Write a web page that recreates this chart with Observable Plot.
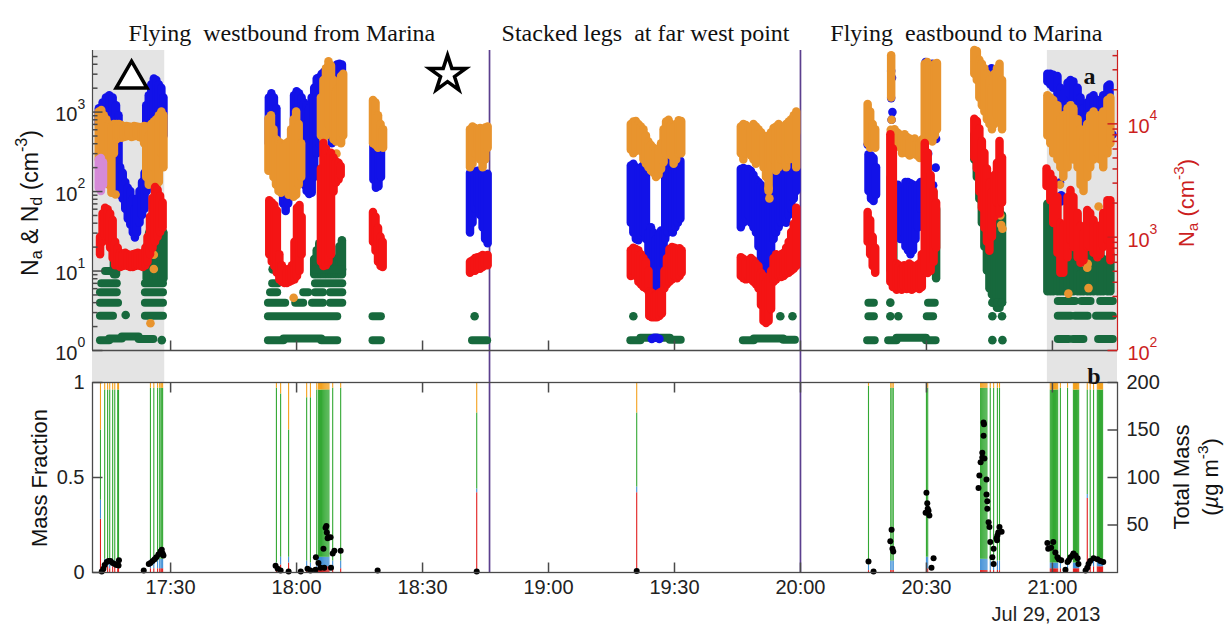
<!DOCTYPE html>
<html>
<head>
<meta charset="utf-8">
<script src="https://cdn.jsdelivr.net/npm/d3@7"></script>
<script src="https://cdn.jsdelivr.net/npm/@observablehq/plot@0.6"></script>
<style>
  body { margin: 0; background: #fff; }
  #chart { position: relative; width: 1228px; height: 630px; overflow: hidden; background: #fff;
           font-family: "Liberation Sans", Arial, sans-serif; }
  #chart svg { position: absolute; left: 0; }
  .ylab { position: absolute; transform: translate(-50%, -50%) rotate(-90deg); white-space: nowrap;
          font-size: 22px; line-height: 1.15; text-align: center; color: #111; }
  .ylab sub { font-size: 0.7em; vertical-align: -0.3em; }
  .ylab sup { font-size: 0.7em; vertical-align: 0.65em; }
</style>
</head>
<body>
<div id="chart"></div>
<script>
// ---- time axis (minutes after 17:00, Jul 29 2013) ----
const timeDomain = [11.4, 255.5];
const xTickMinutes = [30, 60, 90, 120, 150, 180, 210, 240];
const xTickLabels = ["17:30", "18:00", "18:30", "19:00", "19:30", "20:00", "20:30", "21:00"];
const shadedSpans = [[11.4, 28.6], [238.8, 255.5]];
const legBoundaries = [105.95, 180];
const segmentTitles = ["Flying\u00a0 westbound from Marina", "Stacked legs\u00a0 at far west point", "Flying\u00a0 eastbound to Marina"];
const segmentTitleCenters = [56.5, 143.1, 219.5];

// ---- axis ranges ----
const leftMax = 5957;          // N_a & N_d axis top (cm^-3)
const rightMin = 100, rightMax = 44400; // red N_a axis (cm^-3)
const leftMajor = [1, 10, 100, 1000];
const leftExp = ["0", "1", "2", "3"];
const rightMajor = [100, 1000, 10000];
const rightExp = ["2", "3", "4"];
const fracTicks = [0, 0.5, 1];
const fracTickLabels = ["0", "0.5", "1"];
const massTicks = [50, 100, 150, 200];
const massMax = 200;

// ---- panel a: concentration bands [minute, low, high] ----
const blueCols = [
  [12.9,700,1100],[13.8,800,1300],[14.6,900,1500],[15.4,800,1600],[16.2,300,1500],[17.0,150,1200],[17.6,100,900],
  [18.0,90,200],[18.6,80,170],[19.2,60,130],[19.8,45,110],[20.4,38,100],[21.0,30,80],[21.5,26,60],[22.0,30,80],
  [22.6,40,100],[23.2,50,130],[23.8,60,170],[24.3,100,300],
  [24.2,300,1200],[24.8,500,1600],[25.4,800,2200],[26.0,900,2600],[26.6,900,2500],[27.2,700,2200],[27.8,600,2000],[28.3,500,1500],
  [53.4,400,1500],[54.0,250,1700],[54.6,200,1500],[55.2,190,1100],
  [56.8,70,150],[57.4,56,130],[58.0,70,160],
  [59.4,300,1600],[60.0,250,1800],[60.6,200,1700],[61.2,150,1500],[61.8,120,1300],[62.4,100,1200],[63.0,92,1100],
  [63.6,95,1500],[64.2,150,2000],[64.8,300,2600],[65.4,400,2700],
  [66.0,500,3000],[66.6,600,3200],[67.2,700,3500],[67.8,500,3300],[68.4,400,3000],[69.0,600,3600],[69.6,900,3900],[70.2,1200,4000],[70.8,1500,3900],
  [78.3,140,400],[78.9,110,350],[79.5,115,380],[80.1,150,420],
  [101.3,30,170],[101.9,40,180],[102.5,60,170],[103.1,70,180],[103.7,50,175],[104.3,35,160],[104.9,25,150],[105.5,22,165],
  [139.6,40,210],[140.2,30,220],[140.8,25,200],[141.4,24,190],[142.0,28,200],[142.6,30,215],[143.2,25,180],
  [143.8,12,30],[144.4,7,35],[145.0,5.5,30],[145.6,5.3,25],[146.2,6,28],[146.8,8,32],[147.4,12,30],
  [147.8,25,200],[148.4,30,230],[149.0,35,240],[149.6,30,230],[150.2,35,235],[150.8,40,240],[151.4,45,240],
  [165.8,35,190],[166.4,40,195],[167.0,45,190],[167.6,50,190],[168.2,40,180],[168.8,35,160],[169.4,30,140],
  [170.0,20,130],[170.6,12,120],[171.2,8,110],[171.8,6.5,80],[172.4,7,90],[173.0,12,120],[173.6,25,160],
  [174.2,30,190],[174.8,35,195],[175.4,40,200],[176.0,45,190],[176.6,40,185],[177.2,50,195],[177.8,60,200],[178.4,80,260],[179.0,100,500],
  [196.2,100,290],[196.8,80,280],[197.4,75,260],[198.0,90,200],
  [202.6,40,110],[203.2,30,120],[203.8,25,110],[204.4,30,100],[205.0,20,130],[205.6,18,130],[206.2,16,125],
  [206.8,18,120],[207.4,25,115],[208.0,35,120],[208.6,60,130],
  [209.8,2400,4200],[210.6,2200,3800],[211.4,2500,4000],
  [221.6,3000,4300],[222.2,2800,4000],[223.5,2000,3000],[224.3,1800,3200],[225.5,1600,3500],[226.4,1300,2200],[227.6,1100,1900],
  [238.8,2400,3000],[239.5,2200,3000],[240.2,2000,2900],[241.2,1500,2800],[241.9,700,2000],[242.6,800,1700],[243.6,1200,2300],
  [244.3,1600,2500],[245.0,1500,2400],[246.0,1000,2000],[246.7,700,1500],[247.4,500,1100],[248.3,700,1300],[249.0,900,1500],
  [249.8,1000,1600],[250.7,900,1400],[251.4,700,1300],[252.1,900,1600],[253.1,1300,2100],[253.6,1500,2200]
];
const blueDots = [
  [144.6,1.4],[145.2,1.45],[145.8,1.45],[146.4,1.4],[201.6,3300],[201.8,2700],[201.6,1500],[201.9,1000],[201.7,800],
  [210.4,300],[210.8,150],[211.6,120],[212.2,200],[209.8,500],[212.3,460],[241.8,130],[242.1,90],[242.0,75],[254.3,520],[196.0,390]
];

const orangeCols = [
  [12.9,250,1000],[13.5,300,1050],[14.1,150,900],[14.7,200,800],[15.3,120,700],[15.9,95,650],[16.5,300,700],[17.1,450,700],
  [17.7,480,700],[18.3,470,680],[18.9,480,650],[19.5,490,660],[20.1,500,650],[20.7,480,640],[21.3,490,660],[21.9,500,650],
  [22.5,480,640],[23.1,470,640],[23.7,400,660],[24.2,150,650],[24.8,120,500],[25.4,150,700],[26.0,200,750],[26.6,110,800],
  [27.2,130,900],[27.8,300,1000],[28.3,200,900],
  [53.3,180,820],[53.9,200,900],[54.5,150,600],[55.1,120,450],[55.7,100,420],[56.3,95,400],[56.9,110,380],[57.5,100,400],
  [58.1,90,420],[58.7,100,600],[59.3,85,800],[59.9,90,1000],[60.5,120,700],[61.1,150,400],
  [65.8,500,1500],[66.4,450,2500],[67.0,500,3500],[67.6,700,4300],[68.2,600,3800],[68.8,450,2500],[69.4,420,1800],
  [70.0,500,2000],[70.6,400,2800],[71.1,500,3000],
  [78.2,400,1400],[78.8,380,1300],[79.4,350,900],[80.0,360,700],[80.6,350,600],
  [101.3,200,600],[101.9,220,650],[102.5,300,620],[103.1,350,600],[103.7,250,620],[104.3,200,600],[104.9,250,630],[105.5,350,650],
  [139.6,330,700],[140.2,300,750],[140.8,320,760],[141.4,350,700],[142.0,320,650],[142.6,250,600],[143.2,220,500],
  [143.8,200,420],[144.4,180,380],[145.0,170,350],[145.6,150,320],[146.2,160,340],[146.8,190,400],[147.4,230,600],
  [148.0,300,750],[148.6,350,790],[149.2,280,700],[149.8,220,650],[150.4,250,700],[151.0,300,780],[151.6,300,760],
  [165.8,300,650],[166.4,250,700],[167.0,300,680],[167.6,350,600],[168.2,280,640],[168.8,250,700],[169.4,220,650],
  [170.0,250,600],[170.6,300,550],[171.2,200,500],[171.8,150,450],[172.4,100,500],[173.0,200,550],[173.6,250,620],
  [174.2,180,650],[174.8,200,700],[175.4,250,650],[176.0,300,600],[176.6,200,700],[177.2,250,750],[177.8,300,800],
  [178.4,250,900],[179.0,200,1000],
  [196.0,400,1250],[196.6,350,1000],[197.2,380,700],[197.8,350,600],
  [201.6,1500,5100],
  [202.4,350,600],[203.0,380,550],[203.6,360,520],[204.2,300,500],[204.8,350,520],[205.4,300,480],[206.0,280,460],
  [206.6,290,440],[207.2,300,460],[207.8,280,420],[208.4,260,400],[209.0,280,450],
  [209.6,500,4000],[210.2,600,4200],[210.8,450,3800],[211.4,420,3500],[212.0,500,4000],[212.5,600,4100],
  [221.4,3000,5950],[222.0,2500,5800],[222.6,1500,4500],[223.2,1200,4000],[223.8,1000,3500],[224.4,800,3000],
  [225.0,700,2500],[225.6,600,2000],[226.2,700,3000],[226.8,900,3500],[227.4,800,4000],[228.0,600,2500],
  [238.8,500,1600],[239.5,400,1500],[240.2,300,1400],[241.2,250,1200],[241.9,200,800],[242.6,150,900],[243.6,200,1100],
  [244.3,300,1200],[245.0,250,1100],[246.0,200,800],[246.7,120,600],[247.4,100,450],[248.3,150,700],[249.0,200,900],
  [249.8,250,1000],[250.7,300,900],[251.4,250,800],[252.1,200,1000],[253.1,300,1400],[253.8,400,1500]
];
const orangeDots = [
  [16.9,92],[25.2,2.2],[26.0,10.6],[26.0,16],[59.3,4.6],[70.3,200],[69.5,300],[172.6,82],[172.4,110],[201.7,800],[201.5,600],
  [227.8,38],[228.1,34],[227.6,50],[251.0,65],[243.8,5.2],[248.3,11],[244.3,24],[253.1,42],[241.8,122],[248.6,6.1],[248.4,12.3]
];

// red N_a, in units of the right-hand axis
const redCols = [
  [13.2,700,1000],[13.8,900,1600],[14.4,1000,1800],[15.0,1000,1750],[15.6,800,1600],[16.2,650,1400],[16.8,560,900],
  [17.4,560,800],[18.0,540,720],[18.6,550,700],[19.2,560,720],[19.8,550,700],[20.4,540,690],[21.0,540,700],[21.6,550,710],
  [22.2,560,720],[22.8,550,700],[23.4,540,720],[24.0,560,800],
  [24.5,600,1000],[25.1,700,1500],[25.7,800,2200],[26.3,900,2750],[26.9,1000,2600],[27.5,1100,2300],[28.1,1200,2000],
  [53.5,700,2100],[54.1,600,2000],[54.7,550,1900],[55.3,480,1700],
  [55.9,420,700],[56.5,400,560],[57.1,390,520],[57.7,390,500],[58.3,400,520],[58.9,410,560],[59.5,420,900],
  [60.1,450,1800],[60.7,500,1900],[61.2,700,1500],
  [65.8,600,4000],[66.4,550,6700],[67.0,560,6000],[67.6,600,5000],[68.2,700,5500],[68.8,2500,5000],[69.4,3000,4600],[70.0,3200,4500],[70.5,3500,4200],
  [78.2,900,1650],[78.8,750,1500],[79.4,600,1200],[80.0,550,1000],[80.5,540,900],
  [101.3,480,600],[101.9,500,620],[102.5,500,650],[103.1,520,660],[103.7,520,670],[104.3,540,690],[104.9,560,680],[105.5,560,690],
  [139.6,450,760],[140.2,500,800],[140.8,450,780],[141.4,400,760],[142.0,380,700],[142.6,360,650],[143.2,350,600],[143.8,330,500],
  [144.0,200,330],[144.6,195,320],[145.2,195,300],[145.8,195,310],[146.4,200,320],[147.0,210,330],
  [147.6,350,500],[148.2,380,650],[148.8,400,780],[149.4,420,810],[150.0,450,800],[150.6,430,780],[151.2,450,790],[151.7,480,760],
  [165.8,450,660],[166.4,430,640],[167.0,420,600],[167.6,440,620],[168.2,420,650],[168.8,400,620],[169.4,380,580],[170.0,350,550],
  [170.6,250,480],[171.2,180,450],[171.8,173,400],[172.4,180,420],[173.0,230,500],
  [173.6,400,650],[174.2,420,700],[174.8,450,680],[175.4,440,700],[176.0,450,720],[176.6,470,800],[177.2,480,900],
  [177.8,500,1100],[178.4,520,1300],[179.0,550,1800],
  [196.0,900,1650],[196.6,700,1400],[197.2,550,1000],[197.8,480,800],
  [201.4,400,8000],[202.0,360,6000],
  [202.9,340,580],[203.5,350,560],[204.1,340,520],[204.7,360,560],[205.3,345,540],[205.9,350,580],[206.5,340,560],
  [207.1,350,520],[207.7,360,560],[208.3,345,580],[208.9,360,700],
  [209.6,500,6700],[210.3,478,5500],[211.0,500,3500],[211.7,600,2500],[212.3,800,2000],
  [221.4,5000,11000],[222.0,4000,10500],[222.6,2500,9000],[223.2,1800,7000],[223.8,1200,5500],[224.4,900,4000],
  [225.0,750,3000],[225.6,1000,2500],[226.2,1500,3500],[226.8,2000,4500],[227.4,1600,7000],[228.0,2000,5000],
  [238.6,2800,4000],[239.5,2100,3600],[240.2,1320,3200],[241.2,720,2240],[241.9,480,1320],[242.6,480,1250],[243.6,660,2240],
  [244.3,940,2580],[245.0,810,2240],[246.0,660,1620],[246.7,590,1250],[247.4,620,1080],[248.3,810,1720],[249.0,810,1620],
  [249.8,720,1400],[250.7,660,1250],[251.4,700,1250],[252.1,810,1620],[253.1,940,2100],[253.8,620,2100]
];

const greenCols = [
  [16.5,9,13],[17.0,9,12],[24.3,8,20],[24.9,8,30],[25.5,8,35],[26.1,8,30],[26.7,8,28],[27.3,8,33],[27.9,8,36],[28.3,8,30],
  [64.2,9,14],[64.8,9,18],[65.4,9,22],[66.0,9,16],[66.6,9,25],[67.2,9,40],[67.8,9,30],[68.4,9,15],[69.0,9,14],
  [69.6,9,13],[70.2,9,20],[70.8,9,24],
  [201.5,10,150],[202.1,8,60],[210.0,16,200],[210.8,12,150],[211.6,10,100],[212.3,8,60],
  [221.4,250,520],[222.0,150,450],[222.6,80,350],[223.2,40,250],[223.8,20,150],[224.4,10,100],[225.0,6,60],
  [225.6,5,40],[226.2,4,30],[226.8,3.4,40],[227.4,3.4,60],[228.0,4,50],
  [238.8,5.5,69],[239.5,5.5,60],[240.2,5.5,45],[241.2,5.5,25],[241.9,5.5,15],[242.6,5.5,18],[243.6,5.5,30],[244.3,5.5,28],
  [245.0,5.5,20],[246.0,5.5,14],[246.7,5.5,9],[247.4,5.5,10],[248.3,5.5,18],[249.0,5.5,25],[249.8,5.5,27],[250.7,5.5,24],
  [251.4,5.5,18],[252.1,5.5,14],[253.1,5.5,13],[253.8,5.5,16]
];
// counting-limited droplet levels: [start minute, end minute, value]
const greenRows = [
  [13.3,15.5,1.35],[15.5,18.5,1.42],[18.5,22.5,1.5],[22.5,26.0,1.4],
  [13.3,16.4,2.74],[24.0,28.3,2.74],[13.3,17.6,4.0],[24.0,28.3,4.0],[13.3,17.3,5.4],[24.0,28.3,5.4],
  [13.6,17.3,7.0],[24.0,28.3,7.0],[14.5,17.0,10],
  [53.3,57,1.35],[57,66,1.42],[66,69.8,1.35],[53.3,69.8,2.7],
  [53.3,57.4,4.0],[59.8,61.7,4.0],[63.8,66.4,4.0],[68.1,71.0,4.0],
  [53.8,55.5,5.4],[61.7,62.9,5.4],[64.5,66.4,5.4],[68.1,71.0,5.4],
  [54.3,55.7,7.0],[64.5,71.0,7.0],[64.5,71.0,10.5],
  [78.2,80.2,2.7],[78.2,80.2,1.35],[101.9,105.5,1.35],
  [139.6,142,1.35],[142,149,1.45],[149,151.6,1.37],[166.4,169,1.35],[169,176,1.42],[176,178.8,1.37],
  [196.3,197.6,4.0],[196.3,197.6,2.7],[196.0,197.8,1.35],
  [210.5,212.1,4.0],[210.2,211.7,2.7],[201.0,203,1.35],[203,210,1.45],[210,212.3,1.35],
  [241.4,245.5,4.2],[247.0,249.2,4.2],[251.5,254.5,4.2],
  [241.4,244.5,2.74],[245.5,248.5,2.74],[250.5,254.5,2.74],
  [241.4,244.0,1.4],[245.0,247.5,1.4],[251.0,254.5,1.4]
];
const greenDots = [
  [19.3,2.8],[27.9,1.35],[54.3,10.5],[102.4,2.7],[140.2,2.7],[175.2,2.7],[178.1,2.7],[201.4,4.0],[201.4,2.7],[203.3,2.7],
  [225.7,4.0],[226.9,4.0],[228.0,4.0],[225.7,2.7],[228.0,2.7],[225.7,1.35],[228.1,1.35]
];
const violetCols = [[12.9,110,250],[13.4,100,260],[13.9,120,230]];

// ---- panel b: mass fraction per sample [minute, red, blue, green, orange] ----
const massFraction = [
  [13.3,.28,.10,.37,.25],
  [14.3,.03,.04,.89,.04],[15.0,.03,.03,.90,.04],[15.5,.02,.04,.90,.04],[16.2,.03,.04,.89,.04],[16.7,.03,.03,.90,.04],[17.4,.02,.04,.90,.04],[17.6,.03,.04,.89,.04],
  [25.2,.02,.05,.90,.03],[26.0,.02,.05,.90,.03],[26.9,.02,.04,.91,.03],[27.4,.02,.05,.90,.03],[27.7,.02,.05,.90,.03],[27.9,.02,.05,.90,.03],[28.1,.02,.05,.90,.03],
  [55.2,.02,.03,.92,.03],[56.2,.04,.04,.86,.06],[58.1,.05,.03,.67,.25],
  [62.4,.03,.03,.86,.08],[63.3,.02,.03,.87,.08],[64.8,.02,.04,.90,.04],
  [65.2,.03,.05,.88,.04],[65.45,.03,.05,.88,.04],[65.7,.03,.05,.88,.04],[65.95,.03,.05,.88,.04],[66.2,.03,.05,.88,.04],
  [66.45,.03,.05,.88,.04],[66.7,.03,.05,.88,.04],[66.95,.03,.05,.88,.04],[67.2,.03,.05,.88,.04],[67.45,.03,.05,.88,.04],[67.7,.03,.05,.88,.04],
  [68.6,.02,.04,.91,.03],[70.5,.02,.04,.91,.03],
  [102.9,.42,.02,.40,.16],
  [141.0,.42,.03,.39,.16],
  [196.2,.01,.03,.94,.02],
  [201.5,.01,.05,.91,.03],[201.8,.01,.05,.91,.03],[202.1,.01,.05,.91,.03],
  [210.0,.02,.06,.89,.03],[210.3,.02,.06,.89,.03],
  [222.9,.01,.06,.90,.03],[223.15,.01,.06,.90,.03],[223.4,.01,.06,.90,.03],[223.65,.01,.06,.90,.03],[223.9,.01,.06,.90,.03],
  [224.15,.01,.06,.90,.03],[224.4,.01,.06,.90,.03],[225.2,.01,.05,.91,.03],[226.0,.01,.05,.91,.03],[226.9,.01,.05,.91,.03],[227.4,.01,.05,.91,.03],
  [239.5,.02,.03,.91,.04],[239.75,.02,.03,.91,.04],[240.0,.02,.03,.91,.04],[240.25,.02,.03,.91,.04],[240.5,.02,.03,.91,.04],
  [240.75,.02,.03,.91,.04],[241.0,.02,.03,.91,.04],[241.25,.02,.03,.91,.04],
  [241.9,.02,.03,.92,.03],[243.6,.02,.03,.92,.03],
  [245.0,.02,.03,.91,.04],[245.25,.02,.03,.91,.04],[245.5,.02,.03,.91,.04],[245.75,.02,.03,.91,.04],[246.0,.02,.03,.91,.04],[246.25,.02,.03,.91,.04],
  [248.3,.39,.02,.55,.04],[249.0,.03,.03,.90,.04],[249.8,.03,.03,.90,.04],
  [250.7,.03,.03,.90,.04],[250.95,.03,.03,.90,.04],[251.2,.03,.03,.90,.04],[251.45,.03,.03,.90,.04],[251.7,.03,.03,.90,.04],[251.95,.03,.03,.90,.04]
];
// total mass (µg m^-3): [minute, value]
const totalMass = [
  [13.6,1],[14.0,4],[14.3,8],[14.8,11],[15.2,12],[15.7,12],[16.2,10],[16.7,9],[17.1,8],[17.6,7.5],[17.7,13],
  [23.6,2],[24.8,9],[25.2,10],[25.7,12],[26.2,14],[26.6,16],[27.1,19],[27.6,22],[27.9,24],[28.1,20],[28.3,18],
  [55.0,7],[55.5,4],[56.2,2],[58.1,1],[61.0,1],[62.6,4],[63.3,2],[64.5,3],[64.6,16],[65.2,10],[65.7,5],[66.4,25],[66.6,5],
  [66.9,47],[67.1,49],[67.2,42],[67.4,36],[67.6,37],[68.1,37],[68.2,5],[68.6,20],[69.0,23],[70.5,23],
  [79.3,2],[102.9,1],[141.0,1.5],
  [196.2,11.6],[197.4,1],[201.4,33],[201.7,45],[201.9,25],[202.1,22],
  [209.8,63],[210.0,84],[210.2,73],[210.3,67],[210.5,65],[210.7,60],[211.2,5],[211.7,15],
  [222.4,89],[222.6,102],[222.9,116],[223.3,126],[223.3,121],[223.6,158],[223.7,156],[223.6,144],[223.8,120],[224.3,98],
  [224.3,82],[224.5,75],[224.5,67],[224.8,53],[225.0,48],[225.2,32],[225.7,16],[226.0,25],[226.0,9],[226.7,36],[226.8,34],
  [226.9,39],[227.1,42],[227.4,48],[227.9,43],
  [238.8,31],[239.0,25],[239.7,26],[240.2,32],[240.7,21],[241.2,16],[241.5,14],[242.1,13],[243.1,3],[243.6,11],[243.9,13],
  [244.3,16],[244.8,18],[245.0,20],[245.5,18],[246.0,15],[246.2,9],[247.9,2],[248.3,5],[248.6,9],[249.0,12],[249.8,15],
  [250.7,14],[251.4,12],[252.1,11]
];
// markers drawn on panel a: [minute, value]
const triangleMark = [[20.7, 2600]];
const starMark = [[95.95, 2985]];

// ---- layout & styling ----
const W = 1228, mL = 92, mR = 111;
const topH = 382, topMT = 50, topMB = 32;
const botTop = 360, botH = 270, botMT = 22, botMB = 58;
const axisColor = "#4a4a4a", redAxis = "#cc1f1f", purple = "#5b3f8e";
const C = {blue: "#1212e8", orange: "#e8942e", red: "#f41414", green: "#17693d", violet: "#d58ad8"};
const F = {red: "#e11d1d", blue: "#3f8fd6", green: "#33a833", orange: "#f4a11d"};
const serif = "Liberation Serif, Times New Roman, serif";
const sans = "Liberation Sans, Arial, sans-serif";

// right axis values share the left log scale
const kRight = Math.log10(leftMax) / (Math.log10(rightMax) - Math.log10(rightMin));
const toLeft = v => 10 ** ((Math.log10(v) - Math.log10(rightMin)) * kRight);
// log value at the bottom of the gap under panel a
const pxPerDecade = (topH - topMT - topMB) / Math.log10(leftMax);
const gapBottom = 10 ** (-topMB / pxPerDecade);

const tickMark = (dx, dy) => ({draw(ctx) { ctx.moveTo(0, 0); ctx.lineTo(dx, dy); }});
const minorOf = (lo, hi) => {
  const out = [];
  for (let d = lo; d < hi; d *= 10) for (let k = 2; k <= 9; k++) out.push(k * d);
  return out;
};
const leftMinor = minorOf(1, 1000).concat([2000, 3000, 4000, 5000]);
const rightMinor = minorOf(100, 10000).concat([20000, 30000, 40000]);

const band = (data, color, conv = v => v) => Plot.ruleX(data, {
  x: d => d[0], y1: d => conv(d[1]), y2: d => conv(d[2]),
  stroke: color, strokeWidth: 8.5, strokeLinecap: "round"
});
const row = (data, color) => Plot.ruleY(data, {
  y: d => d[2], x1: d => d[0], x2: d => d[1],
  stroke: color, strokeWidth: 8, strokeLinecap: "round"
});
const pts = (data, color) => Plot.dot(data, {x: d => d[0], y: d => d[1], r: 4.3, fill: color});

const topPlot = Plot.plot({
  width: W, height: topH, marginLeft: mL, marginRight: mR, marginTop: topMT, marginBottom: topMB,
  style: {background: "transparent", fontFamily: sans, fontSize: "20px", overflow: "visible"},
  x: {domain: timeDomain, axis: null},
  y: {type: "log", domain: [1, leftMax], axis: null},
  marks: [
    Plot.rect(shadedSpans, {x1: d => d[0], x2: d => d[1], y1: () => gapBottom, y2: () => leftMax, fill: "#e4e4e4"}),
    Plot.ruleX(legBoundaries, {x: d => d, y1: () => gapBottom, y2: () => leftMax, stroke: purple, strokeWidth: 1.7}),
    // data
    band(greenCols, C.green), row(greenRows, C.green), pts(greenDots, C.green),
    band(blueCols, C.blue), pts(blueDots, C.blue),
    band(orangeCols, C.orange), pts(orangeDots, C.orange),
    band(violetCols, C.violet),
    band(redCols, C.red, toLeft),
    // axes
    Plot.ruleY([1], {stroke: axisColor, strokeWidth: 1.5}),
    Plot.ruleX([timeDomain[0]], {y1: () => 1, y2: () => leftMax, stroke: axisColor, strokeWidth: 1.2}),
    Plot.ruleX([timeDomain[1]], {y1: () => 1, y2: () => leftMax, stroke: redAxis, strokeWidth: 1.2}),
    Plot.dot(leftMajor, {y: d => d, frameAnchor: "left", symbol: tickMark(10, 0), stroke: axisColor, fill: "none"}),
    Plot.dot(leftMinor, {y: d => d, frameAnchor: "left", symbol: tickMark(5, 0), stroke: axisColor, fill: "none"}),
    Plot.dot(rightMajor, {y: d => toLeft(d), frameAnchor: "right", symbol: tickMark(-10, 0), stroke: redAxis, fill: "none"}),
    Plot.dot(rightMinor, {y: d => toLeft(d), frameAnchor: "right", symbol: tickMark(-5, 0), stroke: redAxis, fill: "none"}),
    Plot.dot(xTickMinutes, {x: d => d, frameAnchor: "bottom", symbol: tickMark(0, -10), stroke: axisColor, fill: "none"}),
    Plot.text(leftMajor, {y: d => d, frameAnchor: "left", text: () => "10", textAnchor: "end", dx: -15, dy: 3, fontSize: 20, fill: "#222"}),
    Plot.text(leftMajor, {y: d => d, frameAnchor: "left", text: (d, i) => leftExp[i], textAnchor: "start", dx: -15, dy: -8, fontSize: 14, fill: "#222"}),
    Plot.text(rightMajor, {y: d => toLeft(d), frameAnchor: "right", text: () => "10", textAnchor: "start", dx: 10, dy: 3, fontSize: 20, fill: redAxis}),
    Plot.text(rightMajor, {y: d => toLeft(d), frameAnchor: "right", text: (d, i) => rightExp[i], textAnchor: "start", dx: 32, dy: -8, fontSize: 14, fill: redAxis}),
    // titles & annotations
    Plot.text(segmentTitles, {x: (d, i) => segmentTitleCenters[i], frameAnchor: "top", text: d => d, dy: -27,
      fontFamily: serif, fontSize: 24, fill: "#111"}),
    Plot.text(["a"], {frameAnchor: "top-right", text: d => d, dx: -22, dy: 16, fontFamily: serif, fontWeight: "bold", fontSize: 24, fill: "#111"}),
    Plot.dot(triangleMark, {x: d => d[0], y: d => d[1], symbol: "triangle", r: 11.5, fill: "white", stroke: "black", strokeWidth: 3.5}),
    Plot.dot(starMark, {x: d => d[0], y: d => d[1], symbol: "star", r: 11.5, fill: "white", stroke: "black", strokeWidth: 3.5})
  ]
});
topPlot.style.top = "0px";

// stacked mass fraction segments
const comps = ["red", "blue", "green", "orange"];
const fracSegs = massFraction.flatMap(r => {
  let acc = 0;
  return comps.map((c, j) => ({t: r[0], c, y1: acc, y2: (acc += r[j + 1])}));
});

const botPlot = Plot.plot({
  width: W, height: botH, marginLeft: mL, marginRight: mR, marginTop: botMT, marginBottom: botMB,
  style: {background: "transparent", fontFamily: sans, fontSize: "20px", overflow: "visible"},
  x: {domain: timeDomain, axis: null},
  y: {domain: [0, 1], axis: null},
  marks: [
    ...comps.map(c => Plot.ruleX(fracSegs.filter(d => d.c === c), {x: "t", y1: "y1", y2: "y2", stroke: F[c], strokeWidth: 1.1})),
    Plot.ruleX(legBoundaries, {x: d => d, y1: () => 0, y2: () => 1, stroke: purple, strokeWidth: 1.7}),
    Plot.dot(totalMass, {x: d => d[0], y: d => d[1] / massMax, r: 3, fill: "black"}),
    Plot.frame({stroke: axisColor, strokeWidth: 1.3}),
    Plot.dot(fracTicks, {y: d => d, frameAnchor: "left", symbol: tickMark(10, 0), stroke: axisColor, fill: "none"}),
    Plot.dot(massTicks, {y: d => d / massMax, frameAnchor: "right", symbol: tickMark(-10, 0), stroke: axisColor, fill: "none"}),
    Plot.dot(xTickMinutes, {x: d => d, frameAnchor: "bottom", symbol: tickMark(0, -10), stroke: axisColor, fill: "none"}),
    Plot.dot(xTickMinutes, {x: d => d, frameAnchor: "top", symbol: tickMark(0, 10), stroke: axisColor, fill: "none"}),
    Plot.text(fracTicks, {y: d => d, frameAnchor: "left", text: (d, i) => fracTickLabels[i], textAnchor: "end", dx: -8, fontSize: 20, fill: "#222"}),
    Plot.text(massTicks, {y: d => d / massMax, frameAnchor: "right", text: d => String(d), textAnchor: "start", dx: 9, fontSize: 20, fill: "#222"}),
    Plot.text(xTickMinutes, {x: d => d, frameAnchor: "bottom", text: (d, i) => xTickLabels[i], dy: 21, fontSize: 20, fill: "#222"}),
    Plot.text(["Jul 29, 2013"], {frameAnchor: "bottom-right", text: d => d, textAnchor: "end", dx: -17, dy: 48, fontSize: 20, fill: "#222"}),
    Plot.text(["b"], {frameAnchor: "top-right", text: d => d, dx: -17, dy: -16, fontFamily: serif, fontWeight: "bold", fontSize: 24, fill: "#111"})
  ]
});
botPlot.style.top = botTop + "px";

const chart = document.getElementById("chart");
chart.append(topPlot, botPlot);

// rotated axis titles
const labels = [
  {html: "N<sub>a</sub> &amp; N<sub>d</sub> (cm<sup>-3</sup>)", x: 29, y: 203, color: "#111", size: 23},
  {html: "N<sub>a</sub> (cm<sup>-3</sup>)", x: 1186, y: 203, color: redAxis, size: 22},
  {html: "Mass Fraction", x: 40, y: 478, color: "#111", size: 22},
  {html: "Total Mass<br>(<i>\u00b5</i>g m<sup>-3</sup>)", x: 1196, y: 477, color: "#111", size: 22}
];
for (const l of labels) {
  const div = document.createElement("div");
  div.className = "ylab";
  div.innerHTML = l.html;
  div.style.left = l.x + "px";
  div.style.top = l.y + "px";
  div.style.color = l.color;
  div.style.fontSize = l.size + "px";
  chart.append(div);
}
</script>
</body>
</html>
